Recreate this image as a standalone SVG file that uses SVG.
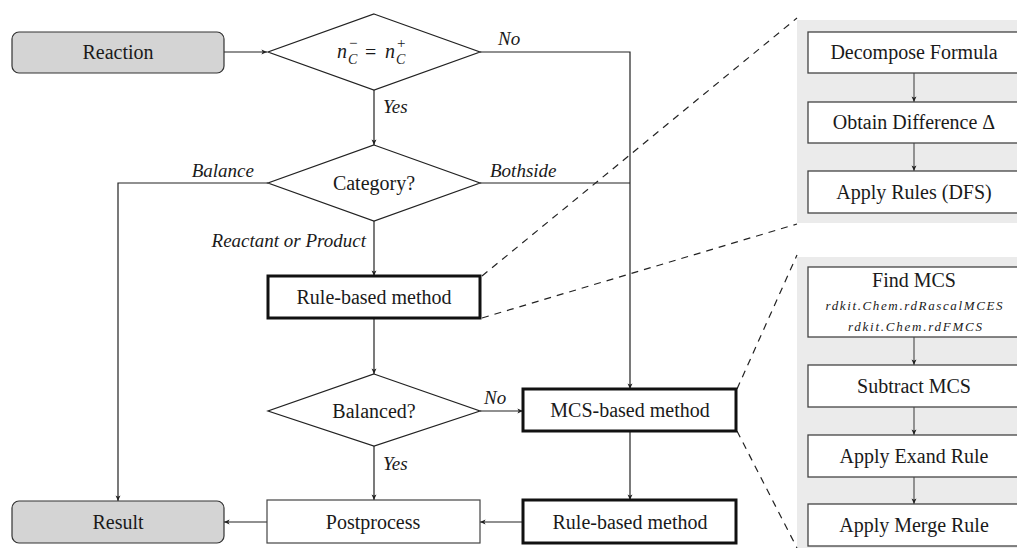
<svg xmlns="http://www.w3.org/2000/svg" width="1017" height="548" viewBox="0 0 1017 548">
<defs>
<marker id="ah" viewBox="0 0 10 10" refX="9" refY="5" markerWidth="7" markerHeight="7" orient="auto" markerUnits="userSpaceOnUse">
<path d="M1,1.5 L9,5 L1,8.5 L3,5 Z" fill="#222"/>
</marker>
<style>
text{fill:#1a1a1a;font-family:"Liberation Serif","Times New Roman",serif;}
.t{font-size:20px;text-anchor:middle;dominant-baseline:central;}
.lbl{font-size:19px;font-style:italic;}
.small{font-size:13px;font-style:italic;text-anchor:middle;}
.m{font-size:20px;font-style:italic;}
.ms{font-size:14px;font-style:italic;}
.mo{font-size:20px;}
.sup{font-size:15px;}
.term{fill:#d4d4d4;stroke:#333;stroke-width:1.2;}
.dia{fill:#fff;stroke:#222;stroke-width:1.2;}
.box{fill:#fff;stroke:#444;stroke-width:1.2;}
.thick{fill:#fff;stroke:#111;stroke-width:3;}
.pbox{fill:#fff;stroke:#444;stroke-width:1.3;}
.panel{fill:#ebebeb;}
.ln{fill:none;stroke:#222;stroke-width:1.2;}
.arr{fill:none;stroke:#222;stroke-width:1.2;marker-end:url(#ah);}
.parr{fill:none;stroke:#555;stroke-width:1.2;marker-end:url(#ah);}
.dash{fill:none;stroke:#222;stroke-width:1.2;stroke-dasharray:7,6;}
</style>
</defs>
<rect width="1017" height="548" fill="#fff"/>

<g id="panel1">
<rect class="panel" x="797" y="20" width="230" height="203"/>
</g>
<g id="panel2">
<rect class="panel" x="797" y="257" width="230" height="300"/>
</g>

<g id="connectors">
<line class="arr" x1="224" y1="52" x2="267" y2="52"/>
<polyline class="arr" points="480,52 630,52 630,389"/>
<line class="arr" x1="374" y1="90" x2="374" y2="145"/>
<polyline class="arr" points="268,183 118,183 118,501"/>
<line class="ln" x1="480" y1="183" x2="630" y2="183"/>
<line class="arr" x1="374" y1="221" x2="374" y2="276"/>
<line class="arr" x1="374" y1="318" x2="374" y2="374"/>
<line class="arr" x1="480" y1="411" x2="523" y2="411"/>
<line class="arr" x1="374" y1="446" x2="374" y2="500"/>
<line class="arr" x1="630" y1="431" x2="630" y2="500"/>
<line class="arr" x1="523" y1="522" x2="480" y2="522"/>
<line class="arr" x1="267" y1="522" x2="224" y2="522"/>
<line class="dash" x1="482" y1="276" x2="797" y2="18"/>
<line class="dash" x1="482" y1="318" x2="797" y2="224"/>
<line class="dash" x1="737" y1="389" x2="797" y2="255"/>
<line class="dash" x1="737" y1="431" x2="797" y2="548"/>
<line class="parr" x1="914" y1="73" x2="914" y2="102"/>
<line class="parr" x1="914" y1="143" x2="914" y2="171"/>
<line class="parr" x1="914" y1="337" x2="914" y2="365"/>
<line class="parr" x1="914" y1="407" x2="914" y2="435"/>
<line class="parr" x1="914" y1="477" x2="914" y2="504"/>
<text class="lbl" x="498" y="45">No</text>
<text class="lbl" x="383" y="113">Yes</text>
<text class="lbl" x="254" y="177" text-anchor="end">Balance</text>
<text class="lbl" x="490" y="177">Bothside</text>
<text class="lbl" x="366" y="247" text-anchor="end">Reactant or Product</text>
<text class="lbl" x="484" y="404">No</text>
<text class="lbl" x="383" y="470">Yes</text>
</g>

<g id="reaction">
<rect class="term" x="12" y="32" width="212" height="41" rx="7"/>
<text class="t" x="118" y="52">Reaction</text>
</g>
<g id="check-carbon">
<polygon class="dia" points="374,14 480,52 374,90 268,52"/>
<text class="m" x="337" y="58">n</text>
<text class="ms" x="348" y="64">C</text>
<text class="sup" x="349" y="48">−</text>
<text class="mo" x="365" y="59">=</text>
<text class="m" x="385" y="58">n</text>
<text class="ms" x="396" y="64">C</text>
<text class="sup" x="397" y="48">+</text>
</g>
<g id="category">
<polygon class="dia" points="374,145 480,183 374,221 268,183"/>
<text class="t" x="374" y="183">Category?</text>
</g>
<g id="rule-based-1">
<rect class="thick" x="268" y="276" width="212" height="42"/>
<text class="t" x="374" y="297">Rule-based method</text>
</g>
<g id="balanced">
<polygon class="dia" points="374,374 480,411 374,446 268,411"/>
<text class="t" x="374" y="411">Balanced?</text>
</g>
<g id="mcs-based">
<rect class="thick" x="523" y="389" width="213" height="42"/>
<text class="t" x="630" y="410">MCS-based method</text>
</g>
<g id="postprocess">
<rect class="box" x="267" y="500" width="213" height="43"/>
<text class="t" x="373" y="522">Postprocess</text>
</g>
<g id="rule-based-2">
<rect class="thick" x="523" y="500" width="213" height="43"/>
<text class="t" x="630" y="522">Rule-based method</text>
</g>
<g id="result">
<rect class="term" x="12" y="501" width="212" height="42" rx="7"/>
<text class="t" x="118" y="522">Result</text>
</g>

<g id="decompose">
<rect class="pbox" x="808" y="32" width="212" height="41"/>
<text class="t" x="914" y="52">Decompose Formula</text>
</g>
<g id="difference">
<rect class="pbox" x="808" y="102" width="212" height="41"/>
<text class="t" x="914" y="122">Obtain Difference Δ</text>
</g>
<g id="apply-rules">
<rect class="pbox" x="808" y="171" width="212" height="42"/>
<text class="t" x="914" y="192">Apply Rules (DFS)</text>
</g>
<g id="find-mcs">
<rect class="pbox" x="808" y="267" width="212" height="70"/>
<text class="t" x="914" y="280">Find MCS</text>
<text class="small" x="914" y="310" textLength="177" lengthAdjust="spacing">rdkit.Chem.rdRascalMCES</text>
<text class="small" x="915" y="331" textLength="134" lengthAdjust="spacing">rdkit.Chem.rdFMCS</text>
</g>
<g id="subtract-mcs">
<rect class="pbox" x="808" y="365" width="212" height="42"/>
<text class="t" x="914" y="386">Subtract MCS</text>
</g>
<g id="expand-rule">
<rect class="pbox" x="808" y="435" width="212" height="42"/>
<text class="t" x="914" y="456">Apply Exand Rule</text>
</g>
<g id="merge-rule">
<rect class="pbox" x="808" y="504" width="212" height="42"/>
<text class="t" x="914" y="525">Apply Merge Rule</text>
</g>
</svg>
